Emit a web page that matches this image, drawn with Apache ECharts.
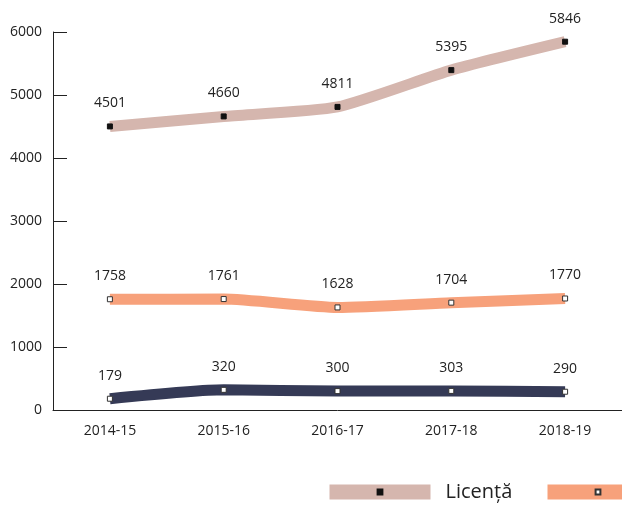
<!DOCTYPE html>
<html>
<head>
<meta charset="utf-8">
<script src="https://cdn.jsdelivr.net/npm/echarts@6/dist/echarts.min.js"></script>
<style>
  html, body { margin: 0; padding: 0; background: #fff; }
  #chart { width: 622px; height: 506px; }
</style>
</head>
<body>
<div id="chart"></div>
<script>
const years = ["2014-15", "2015-16", "2016-17", "2017-18", "2018-19"];
const licenta = [4501, 4660, 4811, 5395, 5846];
const master = [1758, 1761, 1628, 1704, 1770];
const doctorat = [179, 320, 300, 303, 290];

const font = "'Open Sans', 'Noto Sans', sans-serif";
const chart = echarts.init(document.getElementById("chart"));

function lineSeries(name, data, color, symbolFill, symbolBorder) {
  return {
    name,
    type: "line",
    data,
    smooth: 0.2,
    symbol: "rect",
    symbolSize: 5,
    showAllSymbol: true,
    lineStyle: { color, width: 11 },
    itemStyle: { color: symbolFill, borderColor: symbolBorder, borderWidth: 1 },
    label: {
      show: true,
      position: "top",
      distance: 13,
      color: "#222",
      fontSize: 14,
      fontFamily: font
    },
    emphasis: { disabled: true },
    z: 2
  };
}

// legend: thin item box so the marker stays small, thick stroke gives the bar
const legendBase = {
  top: 477,
  itemWidth: 101,
  itemHeight: 6,
  lineStyle: { width: 15, cap: "butt" },
  textStyle: { fontSize: 20, color: "#222", fontFamily: font, padding: [0, 0, 0, 10] }
};

chart.setOption({
  animation: false,
  grid: { left: 53, right: -1, top: 32, bottom: 96 },
  legend: [
    Object.assign({ data: ["Licență"], left: 317 }, legendBase),
    Object.assign({ data: ["Master"], left: 535 }, legendBase)
  ],
  xAxis: {
    type: "category",
    data: years,
    boundaryGap: true,
    axisLine: { lineStyle: { color: "#222", width: 1 } },
    axisTick: { inside: true, length: 8, lineStyle: { color: "#222" } },
    axisLabel: { color: "#222", fontSize: 14, fontFamily: font, margin: 14 }
  },
  yAxis: {
    type: "value",
    min: 0,
    max: 6000,
    interval: 1000,
    splitLine: { show: false },
    axisLine: { show: true, lineStyle: { color: "#222", width: 1 } },
    axisTick: { show: true, inside: true, length: 14, lineStyle: { color: "#222" } },
    axisLabel: { color: "#222", fontSize: 14, fontFamily: font, margin: 11, formatter: (v) => String(v) }
  },
  series: [
    lineSeries("Licență", licenta, "#d5b6ae", "#111", "#111"),
    lineSeries("Master", master, "#f7a17b", "#fff", "#333"),
    lineSeries("Doctorat", doctorat, "#353a56", "#fff", "#333")
  ]
});
</script>
</body>
</html>
